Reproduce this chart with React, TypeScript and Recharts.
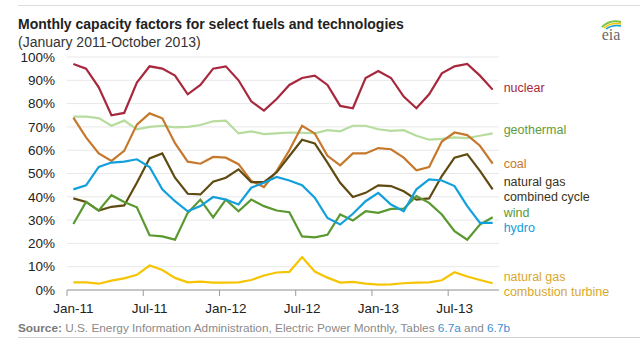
import { CartesianGrid, LabelList, Line, LineChart, XAxis, YAxis } from 'recharts';

const months = [
  'Jan-11', 'Feb-11', 'Mar-11', 'Apr-11', 'May-11', 'Jun-11', 'Jul-11', 'Aug-11', 'Sep-11', 'Oct-11', 'Nov-11', 'Dec-11',
  'Jan-12', 'Feb-12', 'Mar-12', 'Apr-12', 'May-12', 'Jun-12', 'Jul-12', 'Aug-12', 'Sep-12', 'Oct-12', 'Nov-12', 'Dec-12',
  'Jan-13', 'Feb-13', 'Mar-13', 'Apr-13', 'May-13', 'Jun-13', 'Jul-13', 'Aug-13', 'Sep-13', 'Oct-13'
];

const nuclear = [97, 95, 87, 75, 76, 89, 96, 95, 92, 84, 88, 95, 96, 90, 81, 77, 82, 88, 91, 92, 88, 79, 78, 91, 94, 91, 83, 78, 84, 93, 96, 97, 92, 86];
const geothermal = [74.4, 74.4, 73.8, 70.5, 72.7, 69, 70, 70.5, 69.8, 70, 70.8, 72.4, 72.7, 67.2, 68.1, 66.9, 67.2, 67.6, 67.5, 67.2, 68.6, 68.1, 70.5, 70.5, 69, 68.3, 68.6, 66.2, 64.5, 64.9, 65.5, 65.2, 66.2, 67.2];
const coal = [74, 65.5, 58.6, 55.4, 59.7, 71, 75.8, 73.7, 63, 55.1, 54.2, 57.1, 56.8, 54, 46.8, 44.2, 51, 60, 70.5, 67.2, 57.6, 53.5, 58.6, 58.6, 60.9, 60.4, 56.8, 51.4, 52.8, 63.7, 67.6, 66.5, 61.9, 54.2];
const gasCombined = [39.3, 37.8, 34.1, 35.7, 36.3, 46, 56.5, 58.6, 48.2, 41.3, 41, 46.5, 48.2, 51.8, 46.3, 46.3, 50.5, 57.5, 64.5, 62.9, 54.7, 46, 39.9, 41.7, 44.9, 44.6, 42.4, 38.8, 39.3, 48.9, 56.8, 58.3, 51.1, 43.2];
const wind = [28.3, 37.8, 34.1, 40.7, 37.8, 35.5, 23.5, 23, 21.6, 33.1, 38.8, 31.2, 38.8, 33.8, 38.8, 36, 34.1, 33.4, 23, 22.6, 23.7, 32.4, 29.8, 33.8, 33.1, 34.8, 34.9, 40.3, 37.4, 32.4, 25.2, 21.6, 28.1, 31.2];
const hydro = [43.2, 44.9, 52.8, 54.7, 55.1, 56.1, 52.8, 43.2, 38.1, 33.8, 36, 39.9, 38.8, 36.7, 43.9, 46, 48.5, 47, 45, 39.6, 30.9, 28.1, 32.7, 38.1, 41.7, 36.7, 33.8, 43.2, 47.5, 47, 44.6, 36, 28.8, 28.8];
const gasTurbine = [3.3, 3.3, 2.7, 4, 5, 6.5, 10.5, 8.6, 5.2, 3.3, 3.6, 3.2, 3.2, 3.3, 4.3, 6.2, 7.5, 7.8, 14.1, 7.9, 5.3, 3.2, 3.5, 2.7, 2.3, 2.4, 2.9, 3.2, 3.3, 4.2, 7.6, 5.8, 4.3, 2.9];

const yTicks = [0, 10, 20, 30, 40, 50, 60, 70, 80, 90, 100];

const data = months.map((month, i) => ({
  month,
  nuclear: nuclear[i],
  geothermal: geothermal[i],
  coal: coal[i],
  gasCombined: gasCombined[i],
  wind: wind[i],
  hydro: hydro[i],
  gasTurbine: gasTurbine[i]
}));

const series = [
  { key: 'geothermal', color: '#b6dc9e', text: '#5f9b38', lines: ['geothermal'], dy: -3 },
  { key: 'nuclear', color: '#a7283d', text: '#a7283d', lines: ['nuclear'], dy: -2 },
  { key: 'coal', color: '#c6782c', text: '#c6782c', lines: ['coal'], dy: 0 },
  { key: 'gasCombined', color: '#5f4b12', text: '#3b3318', lines: ['natural gas', 'combined cycle'], dy: 0 },
  { key: 'wind', color: '#5a9930', text: '#5a9930', lines: ['wind'], dy: -4 },
  { key: 'hydro', color: '#12a0dc', text: '#12a0dc', lines: ['hydro'], dy: 5 },
  { key: 'gasTurbine', color: '#f6c400', text: '#d9a72c', lines: ['natural gas', 'combustion turbine'], dy: 1 }
];

const FONT = '"Liberation Sans", Arial, sans-serif';
const HALF = 6.35;

function MonthTick({ x, y, payload }: any) {
  return (
    <g>
      <line x1={x - HALF} x2={x - HALF} y1={y} y2={y + 6} stroke="#9a9a9a" />
      <text x={x} y={y + 23} textAnchor="middle" fill="#222" fontSize={13.5} fontFamily={FONT}>
        {payload.value}
      </text>
    </g>
  );
}

const endLabel = (lines: string[], color: string, dy: number) => (props: any) => {
  const { x, y, index } = props;
  if (index !== months.length - 1) return null;
  const lh = 15;
  const y0 = y + dy - ((lines.length - 1) * lh) / 2;
  return (
    <text fill={color} fontSize={12.5} fontFamily={FONT} dominantBaseline="central">
      {lines.map((l, k) => (
        <tspan key={k} x={x + 11} y={y0 + k * lh}>
          {l}
        </tspan>
      ))}
    </text>
  );
};

export default function App() {
  return (
    <div style={{ position: 'absolute', left: 0, top: 0, width: 640, height: 341, background: '#fff', fontFamily: FONT, overflow: 'hidden' }}>
      <div style={{ position: 'absolute', left: 18, right: 0, top: 5, borderTop: '1px solid #dcdcdc' }} />
      <div style={{ position: 'absolute', left: 18, top: 16, fontSize: 14, fontWeight: 'bold', color: '#222', whiteSpace: 'nowrap' }}>
        Monthly capacity factors for select fuels and technologies
      </div>
      <div style={{ position: 'absolute', left: 18, top: 34, fontSize: 14, color: '#333', whiteSpace: 'nowrap' }}>
        (January 2011-October 2013)
      </div>
      <svg style={{ position: 'absolute', left: 596, top: 18 }} width={30} height={26}>
        <path d="M6 9 Q14 1 25 4" stroke="#7dc242" strokeWidth={2} fill="none" />
        <path d="M8 10 Q15 4 25 6" stroke="#f6c400" strokeWidth={1.5} fill="none" />
        <path d="M10 11 Q17 6 25 8" stroke="#12a0dc" strokeWidth={1.5} fill="none" />
        <text x={15} y={22} textAnchor="middle" fontSize={16} fill="#6a6a6a" fontFamily='"Liberation Serif", serif'>
          eia
        </text>
      </svg>
      <LineChart width={640} height={341} data={data} margin={{ top: 57, right: 141, bottom: 21, left: 17 }}>
        <CartesianGrid vertical={false} stroke="#e8e8e8" />
        <XAxis
          dataKey="month"
          interval={5}
          padding={{ left: HALF, right: HALF }}
          tickSize={0}
          tickMargin={0}
          tickLine={false}
          axisLine={{ stroke: '#9a9a9a' }}
          tick={<MonthTick />}
          height={30}
        />
        <YAxis
          domain={[0, 100]}
          ticks={yTicks}
          width={50}
          axisLine={false}
          tickLine={false}
          tickSize={0}
          tickMargin={12}
          tickFormatter={(v: number) => `${v}%`}
          tick={{ fill: '#222', fontSize: 13.5, fontFamily: FONT }}
        />
        {series.map((s) => (
          <Line
            key={s.key}
            dataKey={s.key}
            stroke={s.color}
            strokeWidth={2.2}
            dot={false}
            activeDot={false}
            type="linear"
            isAnimationActive={false}
          >
            <LabelList dataKey={s.key} content={endLabel(s.lines, s.text, s.dy)} />
          </Line>
        ))}
      </LineChart>
      <div style={{ position: 'absolute', left: 18, top: 321, fontSize: 11.8, color: '#8a8a8a', whiteSpace: 'nowrap' }}>
        <b style={{ color: '#7a7a7a' }}>Source:</b> U.S. Energy Information Administration, Electric Power Monthly, Tables{' '}
        <span style={{ color: '#3b8fd1' }}>6.7a</span> and <span style={{ color: '#3b8fd1' }}>6.7b</span>
      </div>
      <div style={{ position: 'absolute', left: 18, right: 0, top: 337, borderTop: '1px solid #d0d0d0' }} />
    </div>
  );
}
